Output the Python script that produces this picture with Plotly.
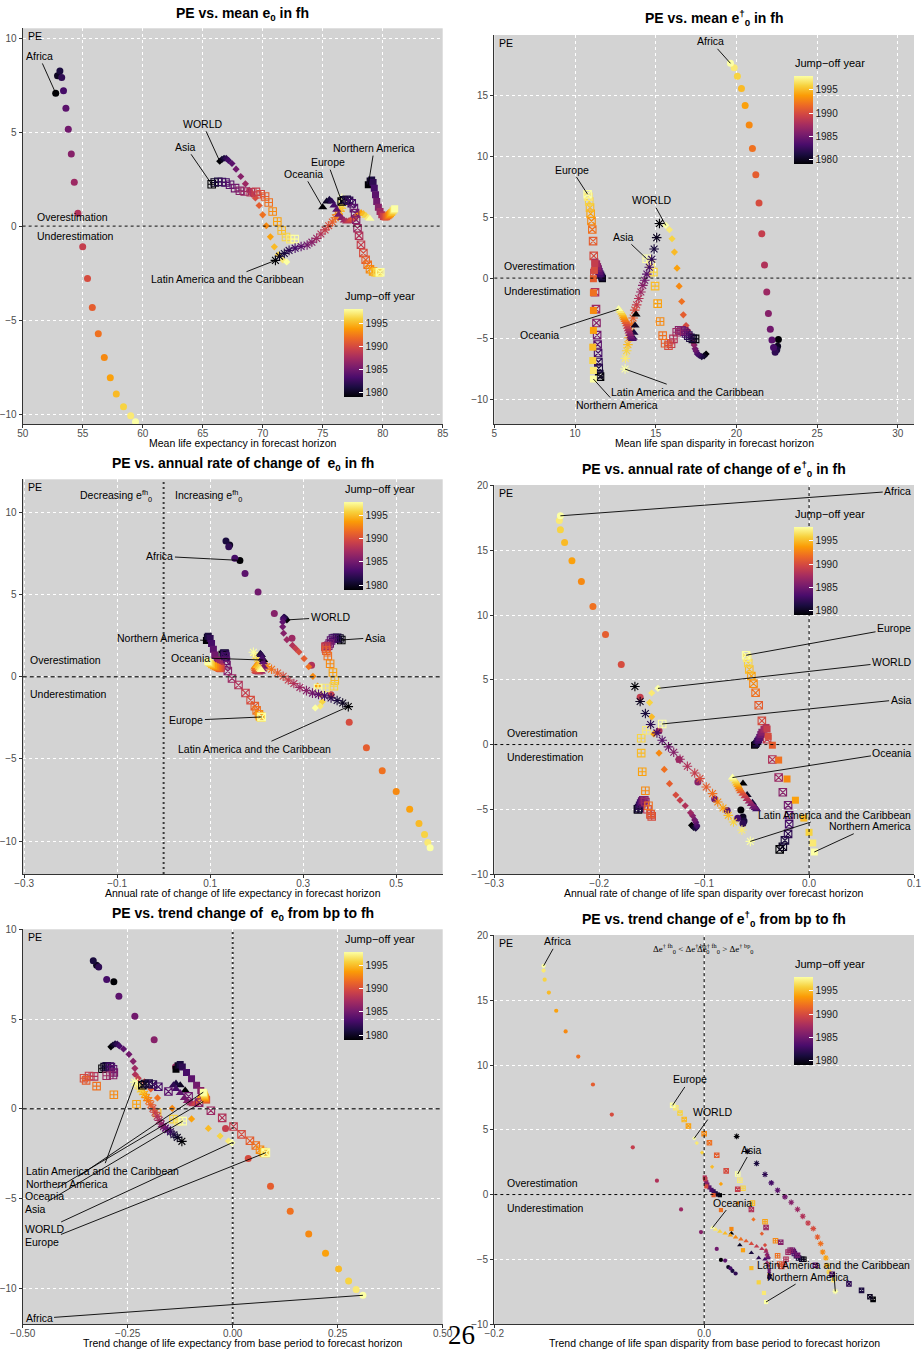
import plotly.graph_objects as go

W, H = 924, 1351

YEARS = list(range(1979, 1999))
REGIONS = ["Africa", "WORLD", "Asia", "Latin America and the Caribbean",
           "Oceania", "Europe", "Northern America"]

# Percentage error of e0 forecasts, by jump-off year 1979..1998
pe_e0 = {
    "Africa": [7.07, 8.0, 8.25, 7.9, 7.2, 6.27, 5.15, 3.84, 2.34, 0.69, -1.1, -2.78, -4.32, -5.72, -6.98, -8.06, -8.93, -9.6, -10.08, -10.4],
    "Asia": [2.23, 2.32, 2.36, 2.35, 2.32, 2.2, 2.02, 1.88, 1.84, 1.8, 1.82, 1.7, 1.58, 1.26, 0.78, 0.25, -0.23, -0.58, -0.69, -0.69],
    "Europe": [1.31, 1.38, 1.4, 1.35, 1.22, 0.96, 0.69, 0.34, -0.11, -0.51, -0.99, -1.43, -1.79, -2.05, -2.29, -2.41, -2.45, -2.46, -2.46, -2.45],
    "Latin America and the Caribbean": [-1.82, -1.6, -1.45, -1.29, -1.17, -1.08, -1.0, -0.85, -0.65, -0.42, -0.2, 0.02, 0.22, 0.45, 0.62, 0.8, 0.95, 1.1, 1.3, 1.48],
    "Northern America": [2.2, 2.4, 2.46, 2.32, 2.02, 1.67, 1.31, 1.01, 0.78, 0.6, 0.51, 0.48, 0.5, 0.55, 0.6, 0.66, 0.72, 0.8, 0.86, 0.92],
    "Oceania": [1.01, 1.31, 1.4, 1.31, 1.1, 0.87, 0.6, 0.43, 0.3, 0.25, 0.28, 0.35, 0.45, 0.55, 0.65, 0.7, 0.65, 0.55, 0.45, 0.4],
    "WORLD": [3.45, 3.55, 3.61, 3.6, 3.5, 3.33, 3.03, 2.64, 2.25, 1.9, 1.7, 1.5, 1.1, 0.6, 0.02, -0.57, -1.1, -1.52, -1.8, -1.9],
}

# Mean life expectancy in forecast horizon
mean_e0 = {
    "Africa": [52.75, 52.9, 53.1, 53.25, 53.4, 53.6, 53.8, 54.05, 54.3, 54.6, 55.0, 55.4, 55.8, 56.3, 56.8, 57.3, 57.8, 58.4, 59.0, 59.4],
    "Asia": [65.75, 66.0, 66.3, 66.6, 66.9, 67.28, 67.7, 68.1, 68.5, 69.0, 69.44, 69.83, 70.2, 70.5, 70.83, 71.22, 71.58, 71.94, 72.3, 72.67],
    "Europe": [76.58, 76.8, 77.0, 77.2, 77.42, 77.6, 77.7, 77.78, 77.9, 78.03, 78.19, 78.39, 78.58, 78.75, 78.94, 79.2, 79.4, 79.55, 79.7, 79.8],
    "Latin America and the Caribbean": [71.06, 71.4, 71.8, 72.2, 72.7, 73.2, 73.7, 74.1, 74.5, 74.85, 75.2, 75.5, 75.8, 76.05, 76.25, 76.4, 76.55, 76.6, 76.6, 76.6],
    "Northern America": [78.8, 78.95, 79.08, 79.2, 79.3, 79.4, 79.5, 79.64, 79.78, 79.92, 80.06, 80.2, 80.33, 80.45, 80.55, 80.65, 80.75, 80.85, 80.93, 81.0],
    "Oceania": [75.0, 75.33, 75.56, 75.75, 75.94, 76.17, 76.33, 76.58, 76.8, 77.0, 77.2, 77.4, 77.6, 77.8, 78.0, 78.2, 78.4, 78.6, 78.8, 78.94],
    "WORLD": [66.42, 66.6, 66.78, 66.96, 67.14, 67.44, 67.78, 68.17, 68.56, 68.9, 69.1, 69.39, 69.7, 70.0, 70.3, 70.64, 70.97, 71.3, 71.67, 72.0],
}

# Annual rate of change of e0 in forecast horizon
rate_e0 = {
    "Africa": [0.164, 0.142, 0.134, 0.14, 0.153, 0.175, 0.203, 0.238, 0.276, 0.318, 0.36, 0.399, 0.436, 0.47, 0.5, 0.529, 0.549, 0.561, 0.568, 0.573],
    "Asia": [0.382, 0.378, 0.373, 0.368, 0.364, 0.36, 0.357, 0.354, 0.351, 0.349, 0.348, 0.349, 0.35, 0.353, 0.358, 0.364, 0.368, 0.366, 0.348, 0.332],
    "Europe": [0.127, 0.13, 0.131, 0.132, 0.133, 0.134, 0.135, 0.138, 0.147, 0.161, 0.176, 0.187, 0.196, 0.2, 0.205, 0.207, 0.209, 0.21, 0.21, 0.211],
    "Latin America and the Caribbean": [0.397, 0.385, 0.373, 0.36, 0.346, 0.333, 0.32, 0.307, 0.293, 0.28, 0.268, 0.257, 0.245, 0.232, 0.222, 0.215, 0.208, 0.202, 0.197, 0.193],
    "Northern America": [0.092, 0.094, 0.096, 0.1, 0.103, 0.107, 0.11, 0.115, 0.12, 0.123, 0.124, 0.122, 0.119, 0.115, 0.111, 0.107, 0.103, 0.1, 0.097, 0.095],
    "Oceania": [0.215, 0.21, 0.208, 0.21, 0.212, 0.214, 0.215, 0.213, 0.21, 0.205, 0.2, 0.198, 0.197, 0.196, 0.198, 0.2, 0.202, 0.205, 0.207, 0.21],
    "WORLD": [0.265, 0.262, 0.26, 0.258, 0.257, 0.256, 0.256, 0.258, 0.265, 0.277, 0.284, 0.291, 0.302, 0.312, 0.321, 0.331, 0.338, 0.341, 0.337, 0.326],
}

# Trend change of e0 from base period to forecast horizon
trend_e0 = {
    "Africa": [-0.283, -0.324, -0.332, -0.319, -0.3, -0.271, -0.233, -0.187, -0.136, -0.075, -0.017, 0.037, 0.09, 0.137, 0.181, 0.221, 0.252, 0.276, 0.294, 0.31],
    "Asia": [-0.31, -0.305, -0.3, -0.293, -0.29, -0.285, -0.283, -0.285, -0.3, -0.33, -0.342, -0.354, -0.349, -0.324, -0.283, -0.229, -0.18, -0.141, -0.13, -0.119],
    "Europe": [-0.215, -0.209, -0.2, -0.19, -0.177, -0.153, -0.105, -0.08, -0.052, -0.025, 0.002, 0.021, 0.041, 0.055, 0.065, 0.072, 0.075, 0.077, 0.078, 0.079],
    "Latin America and the Caribbean": [-0.121, -0.132, -0.14, -0.148, -0.155, -0.16, -0.165, -0.17, -0.175, -0.18, -0.185, -0.19, -0.195, -0.2, -0.205, -0.21, -0.215, -0.22, -0.227, -0.233],
    "Northern America": [-0.135, -0.13, -0.125, -0.12, -0.11, -0.098, -0.086, -0.076, -0.07, -0.066, -0.063, -0.062, -0.063, -0.064, -0.065, -0.066, -0.067, -0.068, -0.069, -0.07],
    "Oceania": [-0.113, -0.125, -0.135, -0.141, -0.135, -0.125, -0.115, -0.108, -0.1, -0.095, -0.09, -0.085, -0.082, -0.079, -0.076, -0.074, -0.072, -0.071, -0.07, -0.07],
    "WORLD": [-0.29, -0.285, -0.28, -0.275, -0.27, -0.26, -0.247, -0.237, -0.233, -0.232, -0.225, -0.21, -0.195, -0.179, -0.144, -0.098, -0.058, -0.03, -0.01, -0.002],
}

# Percentage error of life span disparity (e-dagger) forecasts
pe_ed = {
    "Africa": [-5.05, -5.6, -5.9, -6.1, -5.7, -5.1, -4.2, -2.9, -1.15, 1.07, 3.65, 6.18, 8.5, 10.66, 12.6, 14.2, 15.6, 16.6, 17.3, 17.67],
    "Asia": [-5.0, -5.0, -4.9, -4.73, -4.55, -4.4, -4.3, -4.3, -4.45, -5.0, -5.4, -5.55, -5.36, -4.73, -3.57, -2.1, -0.66, 0.49, 1.1, 1.59],
    "Europe": [-8.1, -7.9, -7.4, -6.9, -6.16, -5.46, -4.69, -3.69, -2.55, -1.16, 0.41, 1.83, 3.04, 4.0, 4.7, 5.3, 5.8, 6.3, 6.7, 6.9],
    "Latin America and the Caribbean": [4.49, 3.33, 2.4, 1.55, 0.9, 0.33, -0.18, -0.6, -1.14, -1.68, -2.2, -2.63, -3.28, -3.79, -4.44, -4.9, -5.47, -5.98, -6.6, -7.48],
    "Northern America": [-0.05, 0.0, 0.1, 0.25, 0.36, 0.55, 0.77, 0.95, 1.18, 1.32, 1.2, 0.63, -0.05, -1.2, -2.66, -4.3, -5.68, -6.78, -7.6, -8.3],
    "Oceania": [-3.0, -3.9, -4.5, -4.9, -5.0, -4.9, -4.8, -4.6, -4.4, -4.2, -4.0, -3.8, -3.6, -3.45, -3.3, -3.15, -3.0, -2.85, -2.7, -2.55],
    "WORLD": [-6.24, -6.4, -6.46, -6.35, -6.24, -6.0, -5.82, -5.5, -5.27, -4.73, -4.3, -3.9, -3.02, -1.92, -0.66, 0.82, 2.14, 3.24, 3.98, 4.34],
}

# Mean life span disparity in forecast horizon
mean_ed = {
    "Africa": [22.6, 22.55, 22.5, 22.4, 22.3, 22.2, 22.1, 21.98, 21.88, 21.74, 21.57, 21.4, 21.2, 20.99, 20.79, 20.54, 20.31, 20.06, 19.86, 19.63],
    "Asia": [17.44, 17.3, 17.15, 17.02, 16.88, 16.76, 16.6, 16.45, 16.3, 16.1, 15.95, 15.79, 15.58, 15.43, 15.27, 15.12, 14.96, 14.86, 14.7, 14.44],
    "Europe": [11.55, 11.5, 11.47, 11.45, 11.43, 11.4, 11.37, 11.33, 11.3, 11.24, 11.2, 11.16, 11.12, 11.07, 11.02, 10.97, 10.93, 10.88, 10.83, 10.78],
    "Latin America and the Caribbean": [15.23, 15.06, 14.9, 14.75, 14.6, 14.45, 14.32, 14.2, 14.08, 13.95, 13.82, 13.7, 13.6, 13.5, 13.45, 13.35, 13.28, 13.2, 13.12, 13.1],
    "Northern America": [11.7, 11.68, 11.65, 11.6, 11.55, 11.5, 11.45, 11.4, 11.34, 11.24, 11.22, 11.2, 11.14, 11.14, 11.14, 11.14, 11.1, 11.1, 11.14, 11.14],
    "Oceania": [13.78, 13.72, 13.65, 13.6, 13.55, 13.5, 13.45, 13.4, 13.35, 13.3, 13.25, 13.2, 13.15, 13.1, 13.05, 13.0, 12.95, 12.88, 12.8, 12.7],
    "WORLD": [18.12, 18.0, 17.85, 17.7, 17.58, 17.5, 17.44, 17.38, 17.33, 17.19, 16.98, 16.88, 16.71, 16.61, 16.45, 16.32, 16.16, 16.01, 15.85, 15.62],
}

# Annual rate of change of life span disparity over forecast horizon
rate_ed = {
    "Africa": [-0.065, -0.063, -0.062, -0.063, -0.068, -0.078, -0.09, -0.106, -0.124, -0.143, -0.161, -0.179, -0.194, -0.206, -0.217, -0.226, -0.233, -0.237, -0.238, -0.237],
    "Asia": [-0.163, -0.163, -0.162, -0.161, -0.16, -0.159, -0.158, -0.157, -0.156, -0.154, -0.151, -0.15, -0.151, -0.153, -0.156, -0.159, -0.16, -0.16, -0.155, -0.14],
    "Europe": [-0.028, -0.025, -0.023, -0.02, -0.019, -0.019, -0.02, -0.025, -0.029, -0.035, -0.04, -0.045, -0.048, -0.051, -0.053, -0.055, -0.057, -0.058, -0.059, -0.06],
    "Latin America and the Caribbean": [-0.166, -0.161, -0.156, -0.151, -0.145, -0.14, -0.134, -0.129, -0.123, -0.116, -0.109, -0.104, -0.098, -0.092, -0.087, -0.082, -0.077, -0.072, -0.064, -0.056],
    "Northern America": [-0.052, -0.051, -0.05, -0.049, -0.048, -0.047, -0.046, -0.045, -0.043, -0.041, -0.04, -0.039, -0.035, -0.029, -0.021, -0.013, -0.005, 0.0, 0.0035, 0.005],
    "Oceania": [-0.063, -0.059, -0.054, -0.051, -0.05, -0.051, -0.053, -0.055, -0.057, -0.059, -0.061, -0.063, -0.065, -0.066, -0.067, -0.068, -0.069, -0.07, -0.072, -0.073],
    "WORLD": [-0.112, -0.11, -0.108, -0.107, -0.107, -0.108, -0.109, -0.111, -0.113, -0.118, -0.123, -0.127, -0.133, -0.138, -0.143, -0.148, -0.15, -0.152, -0.15, -0.144],
}

# Trend change of life span disparity from base period to forecast horizon
trend_ed = {
    "Africa": [0.016, 0.023, 0.027, 0.03, 0.025, 0.02, 0.012, -0.003, -0.022, -0.045, -0.068, -0.088, -0.106, -0.12, -0.132, -0.141, -0.148, -0.152, -0.153, -0.153],
    "Asia": [0.095, 0.093, 0.09, 0.088, 0.086, 0.085, 0.084, 0.082, 0.08, 0.078, 0.076, 0.074, 0.072, 0.07, 0.068, 0.058, 0.046, 0.037, 0.034, 0.032],
    "Europe": [0.161, 0.158, 0.15, 0.138, 0.122, 0.106, 0.089, 0.073, 0.059, 0.045, 0.032, 0.021, 0.012, 0.005, 0.0, -0.015, -0.019, -0.023, -0.027, -0.03],
    "Latin America and the Caribbean": [0.031, 0.041, 0.05, 0.058, 0.064, 0.07, 0.077, 0.083, 0.089, 0.094, 0.099, 0.104, 0.108, 0.111, 0.113, 0.116, 0.117, 0.119, 0.123, 0.125],
    "Northern America": [0.015, 0.013, 0.011, 0.009, 0.007, 0.005, 0.003, 0.002, 0.001, 0.0006, 0.001, 0.002, 0.009, 0.016, 0.026, 0.037, 0.045, 0.052, 0.057, 0.059],
    "Oceania": [0.026, 0.034, 0.045, 0.052, 0.058, 0.061, 0.061, 0.06, 0.059, 0.055, 0.05, 0.045, 0.04, 0.035, 0.03, 0.025, 0.02, 0.015, 0.011, 0.008],
    "WORLD": [0.063, 0.062, 0.062, 0.062, 0.062, 0.062, 0.062, 0.061, 0.06, 0.06, 0.059, 0.058, 0.055, 0.047, 0.032, 0.016, 0.0076, -0.002, -0.007, -0.0095],
}

SYMBOLS = {
    "Africa": "circle",
    "Asia": "square-cross-open",
    "Europe": "square-x-open",
    "Latin America and the Caribbean": "asterisk-open",
    "Northern America": "square",
    "Oceania": "triangle-up",
    "WORLD": "diamond",
}
SIZES = {
    "Africa": 7, "Asia": 7.5, "Europe": 7.5, "Latin America and the Caribbean": 8,
    "Northern America": 7, "Oceania": 8, "WORLD": 5.5,
}

FONT = "Liberation Sans, Arial, sans-serif"
TXT = 10.5


def fx(p):
    return p / W


def fy(p):
    return 1 - p / H


MINUS = "\u2212"


def lab(v, fmt):
    s = fmt.format(v)
    return s.replace("-", MINUS)


PANELS = [
    dict(x=mean_e0, pe=pe_e0, box=(22.7, 442.7, 28.3, 424.0),
         xr=[50, 85], yr=[-10.52, 10.52],
         xt=[50, 55, 60, 65, 70, 75, 80, 85], xf="{:g}",
         yt=[-10, -5, 0, 5, 10],
         title="<b>PE vs. mean e<sub>0</sub> in fh</b>", ty=14,
         xtitle="Mean life expectancy in forecast horizon",
         cbar=(344.3, 309.3), vline=None, hstyle="thin",
         labels=[("Africa", 0, 51.36, 9.05), ("WORLD", 0, 65.0, 5.44),
                 ("Asia", 0, 63.6, 4.22), ("Northern America", 0, 79.3, 4.15),
                 ("Europe", 0, 75.4, 3.4), ("Oceania", 0, 73.4, 2.78),
                 ("Latin America and the Caribbean", 0, 67.05, -2.82)],
         est=(51.03, 0.48, -0.51)),
    dict(x=mean_ed, pe=pe_ed, box=(494.3, 914.0, 35.0, 424.0),
         xr=[5, 31], yr=[-12, 20],
         xt=[5, 10, 15, 20, 25, 30], xf="{:g}",
         yt=[-10, -5, 0, 5, 10, 15],
         title="<b>PE vs. mean e<sup>\u2020</sup><sub>0</sub> in fh</b>", ty=18,
         xtitle="Mean life span disparity in forecast horizon",
         cbar=(794.3, 76.0), vline=None, hstyle="thin",
         labels=[("Africa", 19, 18.41, 19.48), ("Europe", 19, 9.79, 8.93),
                 ("WORLD", 19, 14.77, 6.4), ("Asia", 19, 13.0, 3.4),
                 ("Oceania", 19, 7.77, -4.67),
                 ("Latin America and the Caribbean", 19, 16.96, -9.34),
                 ("Northern America", 19, 12.6, -10.44)],
         est=(5.5, 0.96, -1.02)),
    dict(x=rate_e0, pe=pe_e0, box=(22.7, 442.7, 479.3, 874.0),
         xr=[-0.303, 0.6], yr=[-12, 12],
         xt=[-0.3, -0.1, 0.1, 0.3, 0.5], xf="{:.1f}",
         yt=[-10, -5, 0, 5, 10],
         title="<b>PE vs. annual rate of change of  e<sub>0</sub> in fh</b>", ty=464.3,
         xtitle="Annual rate of change of life expectancy in forecast horizon",
         cbar=(344.3, 501.7), vline="thick", hstyle="thick",
         labels=[("Africa", 0, -0.008, 7.32), ("WORLD", 0, 0.359, 3.61),
                 ("Asia", 0, 0.455, 2.37), ("Northern America", 0, -0.013, 2.37),
                 ("Oceania", 0, 0.058, 1.16), ("Europe", 19, 0.049, -2.66),
                 ("Latin America and the Caribbean", 0, 0.196, -4.38)],
         est=(-0.292, 0.99, -1.03)),
    dict(x=rate_ed, pe=pe_ed, box=(494.3, 914.0, 485.0, 874.0),
         xr=[-0.3, 0.1], yr=[-10, 20.05],
         xt=[-0.3, -0.2, -0.1, 0.0, 0.1], xf="{:.1f}",
         yt=[-10, -5, 0, 5, 10, 15, 20],
         title="<b>PE vs. annual rate of change of e<sup>\u2020</sup><sub>0</sub> in fh</b>", ty=469,
         xtitle="Annual rate of change of life span disparity over forecast horizon",
         cbar=(794.3, 527.0), vline="thin", hstyle="thin",
         labels=[("Africa", 19, 0.0845, 19.59), ("Europe", 19, 0.081, 8.97),
                 ("WORLD", 19, 0.079, 6.37), ("Asia", 19, 0.0877, 3.48),
                 ("Oceania", 19, 0.079, -0.62),
                 ("Latin America and the Caribbean", 19, 0.024, -5.41),
                 ("Northern America", 19, 0.058, -6.31)],
         est=(-0.29, 0.93, -0.98)),
    dict(x=trend_e0, pe=pe_e0, box=(22.7, 442.7, 929.3, 1324.0),
         xr=[-0.5, 0.5], yr=[-12, 10],
         xt=[-0.5, -0.25, 0.0, 0.25, 0.5], xf="{:.2f}",
         yt=[-10, -5, 0, 5, 10],
         title="<b>PE vs. trend change of  e<sub>0</sub> from bp to fh</b>", ty=914.3,
         xtitle="Trend change of life expectancy from base period to forecast horizon",
         cbar=(344.3, 951.7), vline="thick", hstyle="thick",
         labels=[("Latin America and the Caribbean", 19, -0.31, -3.45),
                 ("Northern America", 19, -0.394, -4.19),
                 ("Oceania", 19, -0.448, -4.84), ("Asia", 19, -0.469, -5.57),
                 ("WORLD", 19, -0.447, -6.73), ("Europe", 19, -0.453, -7.42),
                 ("Africa", 19, -0.461, -11.69)],
         est=None),
    dict(x=trend_ed, pe=pe_ed, box=(494.3, 914.0, 935.0, 1324.0),
         xr=[-0.2, 0.2], yr=[-10, 20.05],
         xt=[-0.2, 0.0], xf="{:.1f}",
         yt=[-10, -5, 0, 5, 10, 15, 20],
         title="<b>PE vs. trend change of e<sup>\u2020</sup><sub>0</sub> from bp to fh</b>", ty=919,
         xtitle="Trend change of life span disparity from base period to forecast horizon",
         cbar=(794.3, 977.0), vline="thin", hstyle="thin",
         labels=[("Africa", 19, -0.14, 19.56), ("Europe", 19, -0.0137, 8.89),
                 ("WORLD", 19, 0.0086, 6.37), ("Asia", 19, 0.045, 3.48),
                 ("Oceania", 19, 0.0267, -0.62),
                 ("Latin America and the Caribbean", 19, 0.123, -5.41),
                 ("Northern America", 19, 0.099, -6.34)],
         est=(-0.19, 0.93, -1.06)),
]

fig = go.Figure()
layout = dict(
    width=W, height=H,
    margin=dict(l=0, r=0, t=0, b=0, pad=0, autoexpand=False),
    paper_bgcolor="white", plot_bgcolor="#d3d3d3",
    font=dict(family=FONT, size=TXT, color="black"),
    showlegend=False,
)
annotations = []
shapes = []

for i, p in enumerate(PANELS, start=1):
    sfx = "" if i == 1 else str(i)
    xa, ya = "x" + sfx, "y" + sfx
    cax = "coloraxis" + sfx
    left, right, top, bottom = p["box"]

    axis_common = dict(
        showline=True, linecolor="#333333", linewidth=1.2, mirror=False,
        ticks="outside", ticklen=3, tickcolor="#333333", tickwidth=1,
        tickfont=dict(size=10, color="#4d4d4d", family=FONT),
        showgrid=True, gridcolor="white", griddash="dot", gridwidth=1,
        zeroline=False, fixedrange=True, automargin=False,
    )
    layout["xaxis" + sfx] = dict(
        domain=[fx(left), fx(right)], anchor=ya, range=p["xr"],
        tickvals=p["xt"], ticktext=[lab(v, p["xf"]) for v in p["xt"]],
        ticklabelstandoff=-3,
        **axis_common,
    )
    layout["yaxis" + sfx] = dict(
        domain=[fy(bottom), fy(top)], anchor=xa, range=p["yr"],
        tickvals=p["yt"], ticktext=[lab(v, "{:g}") for v in p["yt"]],
        **axis_common,
    )

    cb_left, cb_top = p["cbar"]
    layout[cax] = dict(
        colorscale="Inferno", cmin=1979, cmax=1998,
        colorbar=dict(
            x=fx(cb_left), xanchor="left", y=fy(cb_top), yanchor="top",
            len=88, lenmode="pixels", thickness=19, thicknessmode="pixels",
            outlinewidth=0, xpad=0, ypad=0, bgcolor="rgba(0,0,0,0)",
            ticks="inside", ticklen=4, tickcolor="white", tickwidth=1,
            tickvals=[1980, 1985, 1990, 1995],
            tickfont=dict(size=10, color="#1a1a1a", family=FONT),
        ),
    )
    annotations.append(dict(
        text="Jump\u2212off year", xref="paper", yref="paper",
        x=fx(cb_left - 1), y=fy(cb_top - 5), xanchor="left", yanchor="bottom",
        showarrow=False, font=dict(size=11, color="black", family=FONT)))
    # short white ticks on the left edge of the colour bar
    for yr in (1980, 1985, 1990, 1995):
        ty = cb_top + (1998 - yr) / (1998 - 1979) * 88
        shapes.append(dict(type="line", xref="paper", yref="paper",
                           x0=fx(cb_left), x1=fx(cb_left + 4), y0=fy(ty), y1=fy(ty),
                           line=dict(color="white", width=1), layer="above"))

    for reg in REGIONS:
        sym = SYMBOLS[reg]
        is_open = sym.endswith("-open")
        fig.add_trace(go.Scatter(
            x=p["x"][reg], y=p["pe"][reg], mode="markers",
            xaxis=xa, yaxis=ya, name=reg, hoverinfo="skip",
            marker=dict(
                symbol=sym, size=SIZES[reg] * (1.0 if i != 6 else 0.6),
                color=YEARS, coloraxis=cax,
                line=dict(width=1.1 if is_open else 0),
            ),
        ))

    # zero reference lines
    if p["hstyle"] == "thin":
        hl = dict(color="black", width=1, dash="3px,3px")
    else:
        hl = dict(color="#3a3a3a", width=1.5, dash="4px,3px")
    shapes.append(dict(type="line", xref=xa + " domain", yref=ya,
                       x0=0, x1=1, y0=0, y1=0, line=hl, layer="above"))
    if p["vline"] == "thin":
        shapes.append(dict(type="line", xref=xa, yref=ya + " domain",
                           x0=0, x1=0, y0=0, y1=1,
                           line=dict(color="black", width=1, dash="3px,3px"), layer="above"))
    elif p["vline"] == "thick":
        shapes.append(dict(type="line", xref=xa, yref=ya + " domain",
                           x0=0, x1=0, y0=0, y1=1,
                           line=dict(color="#3a3a3a", width=2, dash="2px,3px"), layer="above"))

    # titles
    cx = (left + right) / 2
    annotations.append(dict(text=p["title"], xref="paper", yref="paper",
                            x=fx(cx + 10), y=fy(p["ty"]), xanchor="center", yanchor="middle",
                            showarrow=False, font=dict(size=14, color="black", family=FONT)))
    annotations.append(dict(text=p["xtitle"], xref="paper", yref="paper",
                            x=fx(cx + 10), y=fy(bottom + 19), xanchor="center", yanchor="middle",
                            showarrow=False, font=dict(size=TXT, color="black", family=FONT)))
    annotations.append(dict(text="PE", xref="paper", yref="paper",
                            x=fx(left + 3), y=fy(top), xanchor="left", yanchor="top",
                            showarrow=False, font=dict(size=TXT, color="black", family=FONT)))

    if p["est"] is not None:
        ex, ey_over, ey_under = p["est"]
        annotations.append(dict(text="Overestimation", xref=xa, yref=ya, x=ex, y=ey_over,
                                xanchor="left", yanchor="middle", showarrow=False))
        annotations.append(dict(text="Underestimation", xref=xa, yref=ya, x=ex, y=ey_under,
                                xanchor="left", yanchor="middle", showarrow=False))

    # region labels with leader lines
    for reg, idx, lx, ly in p["labels"]:
        annotations.append(dict(
            text=reg, xref=xa, yref=ya,
            x=p["x"][reg][idx], y=p["pe"][reg][idx],
            axref=xa, ayref=ya, ax=lx, ay=ly,
            showarrow=True, arrowhead=0, arrowwidth=0.9, arrowcolor="black",
            standoff=0, startstandoff=0,
            font=dict(size=TXT, color="black", family=FONT),
        ))

# direction labels around the vertical line
annotations.append(dict(text="Decreasing e<sup>fh</sup><sub>0</sub>", xref="x3", yref="y3",
                        x=-0.103, y=11.0, showarrow=False,
                        font=dict(size=TXT, color="black", family=FONT)))
annotations.append(dict(text="Increasing e<sup>fh</sup><sub>0</sub>", xref="x3", yref="y3",
                        x=0.097, y=11.0, showarrow=False,
                        font=dict(size=TXT, color="black", family=FONT)))
annotations.append(dict(text="\u0394e<sup>\u2020 fh</sup><sub>0</sub> &lt; \u0394e<sup>\u2020 bp</sup><sub>0</sub>",
                        xref="x6", yref="y6", x=-0.022, y=19.0, showarrow=False,
                        font=dict(size=9, color="black", family="Liberation Serif, serif")))
annotations.append(dict(text="\u0394e<sup>\u2020 fh</sup><sub>0</sub> &gt; \u0394e<sup>\u2020 bp</sup><sub>0</sub>",
                        xref="x6", yref="y6", x=0.02, y=19.0, showarrow=False,
                        font=dict(size=9, color="black", family="Liberation Serif, serif")))

# page number
annotations.append(dict(text="26", xref="paper", yref="paper", x=fx(461), y=fy(1335),
                        xanchor="center", yanchor="middle", showarrow=False,
                        font=dict(size=27, color="black", family="Liberation Serif, serif")))

layout["annotations"] = annotations
layout["shapes"] = shapes
fig.update_layout(**layout)
fig.write_html("out.html")
